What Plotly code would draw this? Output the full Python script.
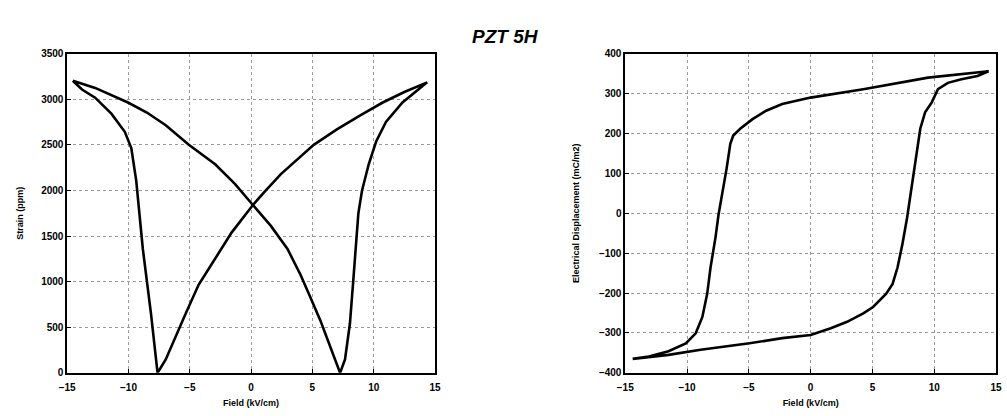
import plotly.graph_objects as go

# Left: strain butterfly loop (closed path)
strain_field = [-14.54, -12.72, -10.04, -8.5, -6.96, -5.08, -2.93, -1.32, 0.15, 1.63, 2.97, 4.04, 4.85,
                5.65, 6.45, 7.26,
                7.66, 8.06, 8.33, 8.55, 8.75, 9.05, 9.4, 9.6, 10.2, 11.0, 12.35, 13.96, 14.36,
                12.5, 10.74, 8.87, 7.0, 5.11, 2.43, 1.09, 0.15, -1.59, -2.93, -4.28, -5.35, -6.15,
                -6.96, -7.63,
                -8.16, -8.83, -9.37, -9.77, -10.3, -11.38, -12.72, -13.79, -14.54]
strain_ppm = [3204, 3125, 2965, 2855, 2715, 2501, 2287, 2073, 1841, 1609, 1359, 1073, 824,
              575, 289, 0,
              146, 538, 1003, 1359, 1750, 2000, 2176, 2290, 2537, 2751, 2965, 3143, 3186,
              3080, 2965, 2822, 2670, 2501, 2180, 1985, 1841, 1538, 1252, 966, 645, 396,
              146, 0,
              645, 1359, 2108, 2465, 2644, 2840, 3018, 3107, 3204]

# Right: D-E hysteresis loop
de_upper_field = [14.4, 9.5, 4.26, 1.63, 0.0, -2.3, -3.6, -4.7, -5.7, -6.26, -6.5, -6.8, -7.2,
                  -7.45, -7.7, -8.1, -8.37, -8.76, -9.3, -10.1, -11.5, -13.1, -14.4]
de_upper_disp = [356, 340, 311, 298, 290, 274, 257, 236, 212, 195, 174, 112, 46,
                 -3, -61, -136, -202, -260, -301, -326, -346, -359, -365]
de_lower_field = [-14.4, -11.5, -8.9, -4.95, -2.3, 0.0, 1.63, 2.95, 4.26, 5.05, 6.1, 6.63, 7.03,
                  7.42, 7.8, 8.08, 8.47, 8.87, 9.26, 9.8, 10.3, 11.1, 12.2, 13.5, 14.4]
de_lower_disp = [-365, -355, -342, -326, -313, -305, -288, -272, -251, -235, -202, -177, -136,
                 -78, -12, 46, 129, 212, 253, 278, 311, 327, 336, 344, 356]

field_ticks = [-15, -10, -5, 0, 5, 10, 15]
strain_ticks = list(range(0, 3501, 500))
disp_ticks = list(range(-400, 401, 100))

fig = go.Figure()
line = dict(color="black", width=2.6)
fig.add_trace(go.Scatter(x=strain_field, y=strain_ppm, mode="lines", line=line,
                         xaxis="x", yaxis="y", showlegend=False))
fig.add_trace(go.Scatter(x=de_upper_field + de_lower_field, y=de_upper_disp + de_lower_disp,
                         mode="lines", line=line, xaxis="x2", yaxis="y2", showlegend=False))

tickfont = dict(family="Liberation Sans, Arial", size=10, color="black", weight="bold")
titlefont = dict(family="Liberation Sans, Arial", size=9, color="black", weight="bold")
common = dict(showline=True, linecolor="black", linewidth=1.6, mirror=True,
              ticks="inside", ticklen=4, tickcolor="black", tickfont=tickfont,
              showgrid=True, gridcolor="#9a9a9a", griddash="dot", gridwidth=1,
              zeroline=False)
xcommon = dict(common, ticklabelstandoff=4)

fig.update_layout(
    width=1007, height=416,
    margin=dict(l=0, r=0, t=0, b=0),
    paper_bgcolor="white", plot_bgcolor="white",
    xaxis=dict(domain=[0.0596, 0.430], range=[-15, 15], tickvals=field_ticks,
               anchor="y", title=dict(text="Field (kV/cm)", font=titlefont, standoff=8), **xcommon),
    yaxis=dict(domain=[0.094, 0.880], range=[0, 3500], tickvals=strain_ticks,
               anchor="x", title=dict(text="Strain (ppm)", font=titlefont, standoff=16), **common),
    xaxis2=dict(domain=[0.6216, 0.995], range=[-15, 15], tickvals=field_ticks,
                anchor="y2", title=dict(text="Field (kV/cm)", font=titlefont, standoff=8), **xcommon),
    yaxis2=dict(domain=[0.094, 0.880], range=[-400, 400], tickvals=disp_ticks,
                anchor="x2", title=dict(text="Electrical Displacement (mC/m2)", font=titlefont, standoff=18),
                **common),
    annotations=[dict(text="<b><i>PZT 5H</i></b>", x=0.5015, y=0.952, xref="paper", yref="paper",
                      showarrow=False, font=dict(family="Liberation Sans, Arial", size=19, color="black"))],
)

fig.write_html("out.html")
